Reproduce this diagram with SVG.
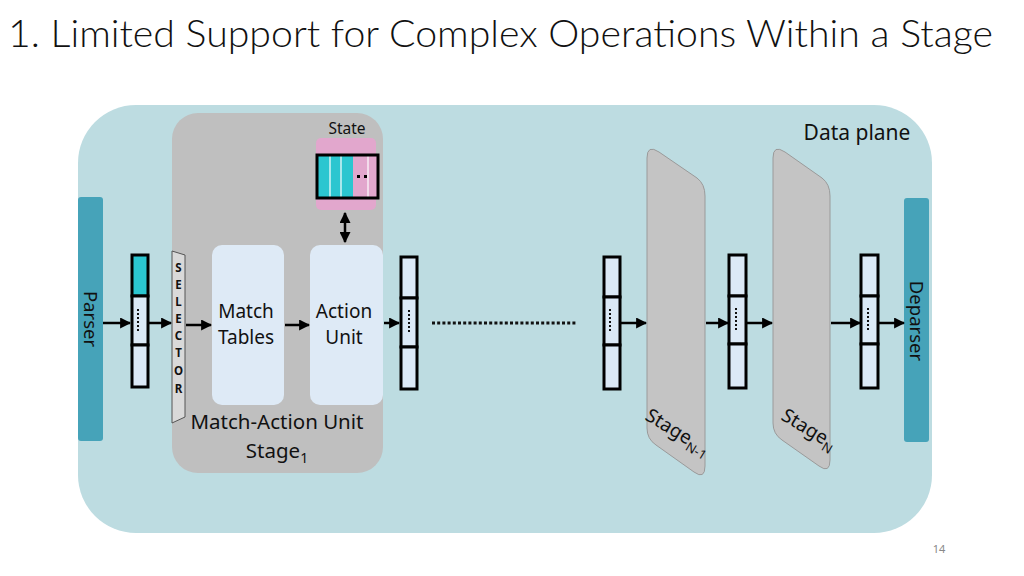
<svg xmlns="http://www.w3.org/2000/svg" width="1024" height="576" viewBox="0 0 1024 576">
<style>
text{font-family:"Noto Sans","Open Sans","Liberation Sans",sans-serif;fill:#111}
.lbl{font-size:20.5px;text-anchor:middle}
.cell{fill:#dbe9f6;stroke:#000;stroke-width:3}
.dots{stroke:#111;stroke-width:2;stroke-dasharray:2 2}
.arr{stroke:#000;stroke-width:2.5;fill:none;marker-end:url(#ah)}
.stage{fill:#c4c4c4;stroke:#9a9a9a;stroke-width:1}
.sel{font-size:11.5px;font-weight:bold;text-anchor:middle}
.box{font-size:19px;text-anchor:middle}
</style>
<defs>
<marker id="ah" viewBox="0 0 10 10" refX="9" refY="5" markerWidth="4.4" markerHeight="4.4" orient="auto" markerUnits="strokeWidth">
<path d="M0,0 L10,5 L0,10 Z" fill="#000"/>
</marker>
<marker id="ahs" viewBox="0 0 10 10" refX="9" refY="5" markerWidth="4.4" markerHeight="4.4" orient="auto-start-reverse" markerUnits="strokeWidth">
<path d="M0,0 L10,5 L0,10 Z" fill="#000"/>
</marker>
</defs>
<rect width="1024" height="576" fill="#fff"/>
<text x="8" y="47" font-size="37" textLength="985" lengthAdjust="spacingAndGlyphs" style="font-family:Lato,'Liberation Sans',sans-serif;font-weight:300">1. Limited Support for Complex Operations Within a Stage</text>

<g id="dataplane">
<rect x="78" y="105" width="854" height="428" rx="58" fill="#bddce1"/>
<text x="857" y="140" font-size="21" text-anchor="middle">Data plane</text>
</g>

<g id="parser">
<rect x="78" y="197" width="25" height="244" rx="3" fill="#46a3b9"/>
<text x="0" y="0" font-size="18.5" text-anchor="middle" transform="translate(84,319) rotate(90)">Parser</text>
</g>

<g id="deparser">
<rect x="904" y="198" width="25" height="244" rx="3" fill="#46a3b9"/>
<text x="0" y="0" font-size="18.5" text-anchor="middle" transform="translate(910,321) rotate(90)">Deparser</text>
</g>

<g id="stage1">
<rect x="172" y="113" width="211" height="360" rx="26" fill="#bfbfbf"/>
<text x="277" y="429" class="lbl">Match-Action Unit</text>
<text x="277" y="458" class="lbl">Stage<tspan font-size="14" dy="5">1</tspan></text>
</g>

<g id="state">
<text x="347" y="134" font-size="15.5" text-anchor="middle">State</text>
<rect x="316" y="138" width="60" height="72" rx="5" fill="#e2a7cd"/>
<rect x="317" y="155" width="36" height="43" fill="#2bc6d0"/>
<rect x="353" y="155" width="25" height="43" fill="#e2a7cd"/>
<line x1="330" y1="156" x2="330" y2="197" stroke="#fff" stroke-width="1.2"/>
<line x1="341" y1="156" x2="341" y2="197" stroke="#fff" stroke-width="1.2"/>
<line x1="368" y1="156" x2="368" y2="197" stroke="#fff" stroke-width="1.2"/>
<rect x="357" y="175" width="3" height="3" fill="#000"/>
<rect x="364" y="175" width="3" height="3" fill="#000"/>
<rect x="317" y="155" width="61" height="43" fill="none" stroke="#000" stroke-width="3"/>
</g>

<g id="selector">
<polygon points="172,251 185,255 185,417 172,423" fill="#d9d9d9" stroke="#555" stroke-width="1"/>
<text x="178.5" y="272" class="sel">S</text>
<text x="178.5" y="289" class="sel">E</text>
<text x="178.5" y="306" class="sel">L</text>
<text x="178.5" y="323" class="sel">E</text>
<text x="178.5" y="340" class="sel">C</text>
<text x="178.5" y="357" class="sel">T</text>
<text x="178.5" y="375" class="sel">O</text>
<text x="178.5" y="393" class="sel">R</text>
</g>

<g id="match-tables">
<rect x="212" y="245" width="72" height="160" rx="10" fill="#deeaf6"/>
<text x="246" y="318" class="box">Match</text>
<text x="246" y="344" class="box">Tables</text>
</g>

<g id="action-unit">
<rect x="310" y="245" width="73" height="160" rx="10" fill="#deeaf6"/>
<text x="344" y="318" class="box">Action</text>
<text x="344" y="344" class="box">Unit</text>
</g>

<g id="vec1">
<rect x="132" y="255" width="16" height="41" fill="#2bc6d0" stroke="#000" stroke-width="3"/>
<rect x="132" y="296" width="16" height="49" class="cell"/>
<rect x="132" y="345" width="16" height="42" class="cell"/>
<line x1="138" y1="309" x2="138" y2="331" class="dots"/>
</g>

<g id="vec2">
<rect x="401" y="257" width="16" height="41" class="cell"/>
<rect x="401" y="298" width="16" height="49" class="cell"/>
<rect x="401" y="347" width="16" height="42" class="cell"/>
<line x1="409" y1="310" x2="409" y2="332" class="dots"/>
</g>

<g id="vec3">
<rect x="604" y="257" width="16" height="40" class="cell"/>
<rect x="604" y="297" width="16" height="48" class="cell"/>
<rect x="604" y="345" width="16" height="44" class="cell"/>
<line x1="610" y1="309" x2="610" y2="331" class="dots"/>
</g>

<g id="stageN-1">
<path d="M647,158 Q647,144 659,152 L697,178 Q705,184 705,196 L705,466 Q705,480 694,472 L656,445 Q647,439 647,428 Z" class="stage"/>
<text transform="translate(644,419) rotate(31)" font-size="19">Stage<tspan font-size="13" dy="5">N-1</tspan></text>
</g>

<g id="vec4">
<rect x="729" y="255" width="17" height="41" class="cell"/>
<rect x="729" y="296" width="17" height="48" class="cell"/>
<rect x="729" y="344" width="17" height="44" class="cell"/>
<line x1="736" y1="308" x2="736" y2="330" class="dots"/>
</g>

<g id="stageN">
<path d="M773,158 Q773,144 785,152 L822,178 Q830,184 830,196 L830,460 Q830,474 819,466 L782,440 Q773,434 773,423 Z" class="stage"/>
<text transform="translate(780,419) rotate(31)" font-size="19">Stage<tspan font-size="13" dy="5">N</tspan></text>
</g>

<g id="vec5">
<rect x="861" y="255" width="17" height="41" class="cell"/>
<rect x="861" y="296" width="17" height="48" class="cell"/>
<rect x="861" y="344" width="17" height="44" class="cell"/>
<line x1="868" y1="308" x2="868" y2="330" class="dots"/>
</g>

<g id="connectors">
<line x1="103" y1="323" x2="130" y2="323" class="arr"/>
<line x1="149" y1="323" x2="171" y2="323" class="arr"/>
<line x1="186" y1="325" x2="211" y2="325" class="arr"/>
<line x1="285" y1="325" x2="309" y2="325" class="arr"/>
<line x1="384" y1="323" x2="399" y2="323" class="arr"/>
<line x1="345" y1="213" x2="345" y2="242" stroke="#000" stroke-width="2.5" marker-start="url(#ahs)" marker-end="url(#ah)"/>
<line x1="432" y1="323" x2="576" y2="323" stroke="#111" stroke-width="3" stroke-dasharray="3 2.2"/>
<line x1="621" y1="323" x2="646" y2="323" class="arr"/>
<line x1="706" y1="323" x2="728" y2="323" class="arr"/>
<line x1="747" y1="323" x2="772" y2="323" class="arr"/>
<line x1="831" y1="323" x2="860" y2="323" class="arr"/>
<line x1="879" y1="323" x2="904" y2="323" class="arr"/>
</g>

<text x="939" y="553" font-size="11" text-anchor="middle" style="fill:#888">14</text>
</svg>
